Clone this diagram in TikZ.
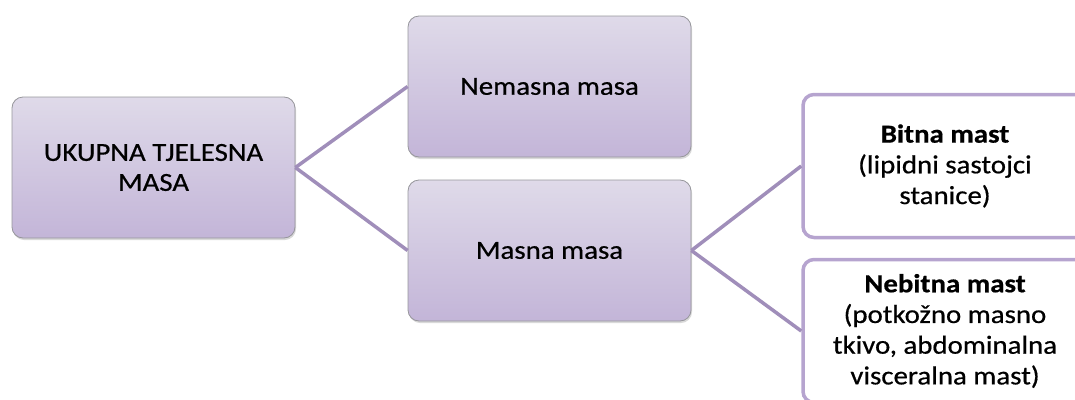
\documentclass[tikz,border=0pt]{standalone}
\usepackage{fontspec}
\setmainfont[FakeStretch=1.11, FakeBold=0.6, BoldFeatures={FakeBold=0.6}]{Carlito}
\usetikzlibrary{shadows}
\definecolor{topc}{RGB}{223,218,233}
\definecolor{botc}{RGB}{195,181,216}
\definecolor{linec}{RGB}{160,142,186}
\definecolor{rborder}{RGB}{182,164,207}
\definecolor{gborder}{RGB}{150,150,155}
\begin{document}
\begin{tikzpicture}[x=1pt,y=-1pt,
  fillbox/.style={draw=gborder, line width=0.8pt, rounded corners=11pt,
    top color=topc, bottom color=botc, minimum width=283pt, minimum height=141pt,
    inner sep=0pt, align=center, font=\fontsize{26}{30}\selectfont,
    drop shadow={opacity=0.3, shadow xshift=1pt, shadow yshift=-2pt}},
  whitebox/.style={draw=rborder, line width=3.5pt, rounded corners=11pt, fill=white,
    minimum width=284pt, minimum height=143pt, inner sep=0pt, align=center,
    font=\fontsize{26}{30.7}\selectfont},
  conn/.style={draw=linec, line width=3.5pt}]
\useasboundingbox (0,0) rectangle (1075,399);
\clip (0,0) rectangle (1075,399);
\node[fillbox] (L) at (153.5,167.5) {UKUPNA TJELESNA\\MASA};
\node[fillbox] (N) at (549.5,86.5) {Nemasna masa};
\node[fillbox] (M) at (549.5,250.5) {Masna masa};
\node[whitebox] (B) at (945,166) {\textbf{Bitna mast}\\(lipidni sastojci\\stanice)};
\node[whitebox] (NB) at (945,331) {\textbf{Nebitna mast}\\(potkožno masno\\tkivo, abdominalna\\visceralna mast)};
\draw[conn] (L.east) -- (N.west);
\draw[conn] (L.east) -- (M.west);
\draw[conn] (M.east) -- (B.west);
\draw[conn] (M.east) -- (NB.west);
\end{tikzpicture}
\end{document}
